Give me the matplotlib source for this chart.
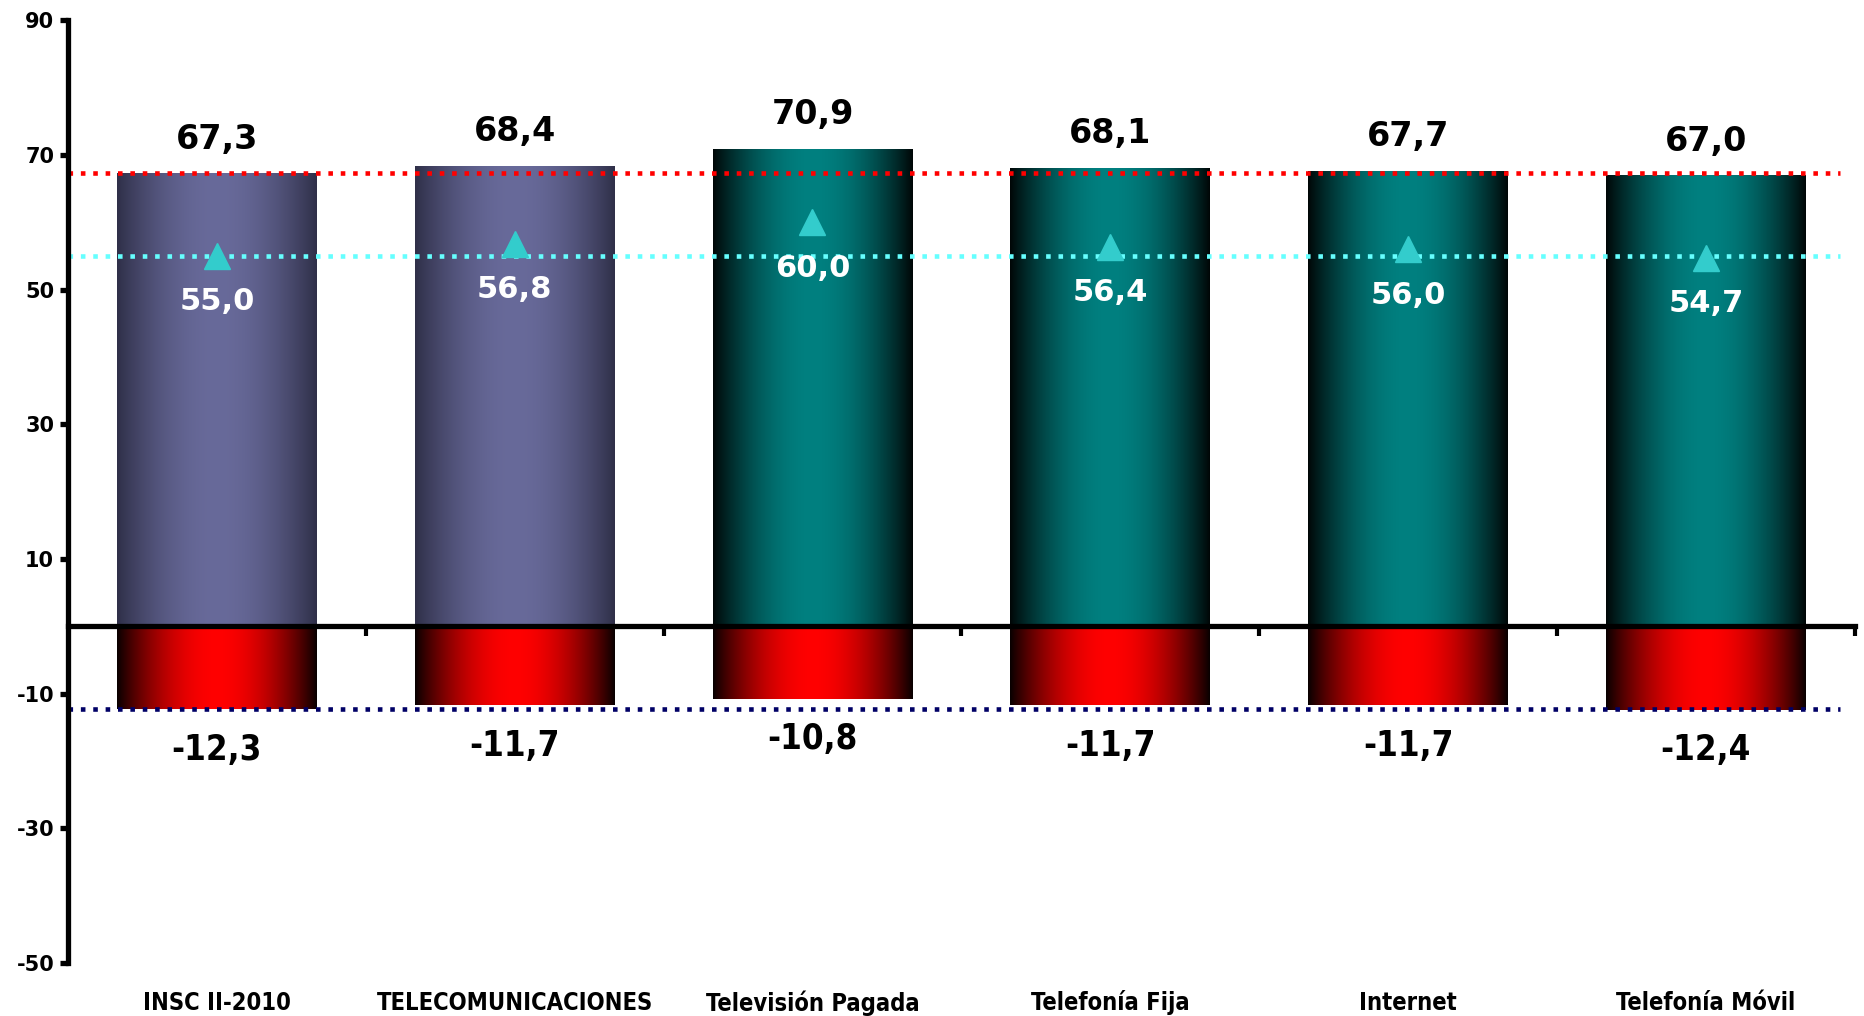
import matplotlib
matplotlib.use("Agg")
import matplotlib.pyplot as plt
import numpy as np
from matplotlib.colors import to_rgb

# datos
categorias = ["INSC II-2010", "TELECOMUNICACIONES", "Televisión Pagada",
              "Telefonía Fija", "Internet", "Telefonía Móvil"]
positivos = [67.3, 68.4, 70.9, 68.1, 67.7, 67.0]
negativos = [-12.3, -11.7, -10.8, -11.7, -11.7, -12.4]
netos = [55.0, 56.8, 60.0, 56.4, 56.0, 54.7]
ticks_y = [-50, -30, -10, 10, 30, 50, 70, 90]


def fmt(v):
    return f"{v:.1f}".replace(".", ",")


def degradado(oscuro, claro, n=256):
    # horizontal: oscuro en los bordes, claro en el centro
    t = np.sin(np.linspace(0, np.pi, n)) ** 0.9
    a = np.array(to_rgb(oscuro))
    b = np.array(to_rgb(claro))
    fila = a[None, :] * (1 - t[:, None]) + b[None, :] * t[:, None]
    return fila[None, :, :]


def pintar_barra(ax, barra, img):
    x0, y0 = barra.get_x(), barra.get_y()
    w, h = barra.get_width(), barra.get_height()
    extent = [x0, x0 + w, min(y0, y0 + h), max(y0, y0 + h)]
    im = ax.imshow(img, extent=extent, aspect="auto", zorder=2,
                   interpolation="bilinear")
    im.set_clip_path(barra)
    barra.set_facecolor("none")
    barra.set_edgecolor("none")


plt.rcParams["font.family"] = "DejaVu Sans"
fig = plt.figure(figsize=(18.64, 10.16), dpi=100)
ax = fig.add_axes([0.0365, 0.052, 0.9585, 0.928])

x = np.arange(len(categorias))
ancho = 0.67

barras_pos = ax.bar(x, positivos, width=ancho, zorder=2)
barras_neg = ax.bar(x, negativos, width=ancho, zorder=2)

img_morado = degradado("#2f2f48", "#686a9a")
img_verde = degradado("#000606", "#008080")
img_rojo = degradado("#080000", "#ff0000")

for i, b in enumerate(barras_pos):
    pintar_barra(ax, b, img_morado if i < 2 else img_verde)
for b in barras_neg:
    pintar_barra(ax, b, img_rojo)

# líneas de referencia (valores del INSC)
punteado = (0, (1, 1.7))
ax.hlines(positivos[0], -0.5, 5.45, colors="#ff0000", linewidth=3.3,
          linestyles=punteado, zorder=3)
ax.hlines(netos[0], -0.5, 5.45, colors="#66ffff", linewidth=3.3,
          linestyles=punteado, zorder=3)
ax.hlines(negativos[0], -0.5, 5.45, colors="#000066", linewidth=3.3,
          linestyles=punteado, zorder=3)

ax.plot(x, netos, linestyle="none", marker="^", markersize=19,
        color="#33cccc", zorder=4)

for i in range(len(categorias)):
    ax.annotate(fmt(positivos[i]), (x[i], positivos[i]), xytext=(0, 24.5),
                textcoords="offset points", ha="center", va="center",
                fontsize=24, fontweight="heavy", color="black", zorder=6)
    ax.annotate(fmt(netos[i]), (x[i], netos[i]), xytext=(0, -33),
                textcoords="offset points", ha="center", va="center",
                fontsize=22, fontweight="heavy", color="white", zorder=6)
    ax.annotate(fmt(negativos[i]), (x[i], negativos[i]), xytext=(0, -29),
                textcoords="offset points", ha="center", va="center",
                fontsize=25, fontweight="heavy", color="black", zorder=6,
                fontstretch="condensed")
    ax.text(x[i], -0.042, categorias[i], transform=ax.get_xaxis_transform(),
            ha="center", va="center", fontsize=17, fontweight="heavy",
            fontstretch="condensed")

ax.set_xlim(-0.5, 5.5)
ax.set_ylim(-50, 90)
ax.set_yticks(ticks_y)
ax.set_yticklabels([str(t) for t in ticks_y], fontsize=15, fontweight="heavy")
ax.set_xticks(np.arange(0.5, 6, 1.0))
ax.set_xticklabels([])

ax.spines["top"].set_visible(False)
ax.spines["right"].set_visible(False)
ax.spines["left"].set_linewidth(3.8)
ax.spines["bottom"].set_linewidth(3.8)
ax.spines["bottom"].set_position(("data", 0))
ax.spines["bottom"].set_zorder(5)
ax.spines["left"].set_zorder(5)
ax.tick_params(axis="y", direction="out", length=6, width=3.8, pad=4)
ax.tick_params(axis="x", direction="out", length=7, width=3, pad=2)

fig.savefig("out.png", dpi=100)
